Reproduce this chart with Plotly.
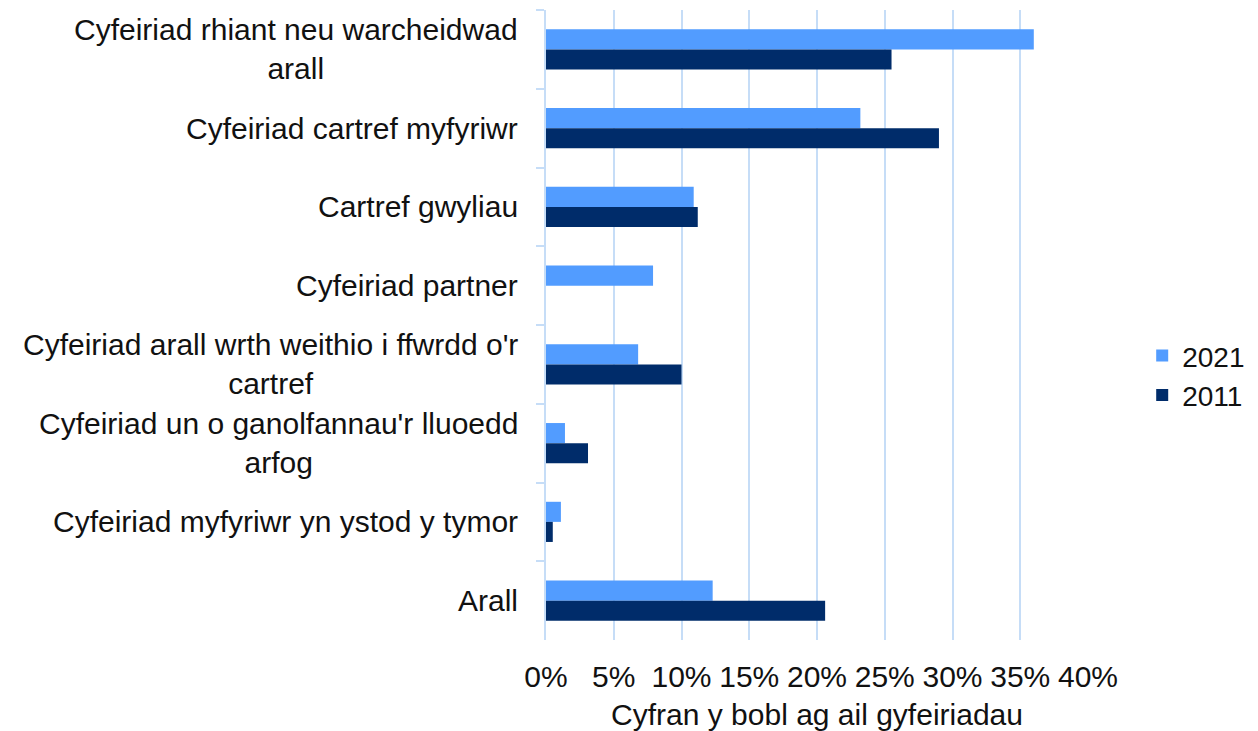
import plotly.graph_objects as go

categories = [
    "Cyfeiriad rhiant neu warcheidwad<br>arall",
    "Cyfeiriad cartref myfyriwr",
    "Cartref gwyliau",
    "Cyfeiriad partner",
    "Cyfeiriad arall wrth weithio i ffwrdd o'r<br>cartref",
    "Cyfeiriad un o ganolfannau'r lluoedd<br>arfog",
    "Cyfeiriad myfyriwr yn ystod y tymor",
    "Arall",
]
values_2021 = [0.360, 0.232, 0.109, 0.079, 0.068, 0.014, 0.011, 0.123]
values_2011 = [0.255, 0.290, 0.112, None, 0.100, 0.031, 0.005, 0.206]
x_tick_vals = [0, 0.05, 0.10, 0.15, 0.20, 0.25, 0.30, 0.35, 0.40]
x_title = "Cyfran y bobl ag ail gyfeiriadau"

FONT = "Liberation Sans, Arial, sans-serif"
GRID = "#c6ddf7"
TXT = "#111111"

fig = go.Figure()
fig.add_trace(go.Bar(y=categories, x=values_2021, name="2021", orientation="h",
                     marker=dict(color="#529cff", line=dict(width=0))))
fig.add_trace(go.Bar(y=categories, x=values_2011, name="2011", orientation="h",
                     marker=dict(color="#002c6a", line=dict(width=0))))

for c in categories:
    fig.add_annotation(x=-0.048, xref="paper", y=c, yref="y", text=c,
                       showarrow=False, xanchor="right", yanchor="middle",
                       align="center", font=dict(size=30, color=TXT, family=FONT))

fig.update_layout(
    width=1250, height=723,
    margin=dict(l=538, r=170, t=2, b=91, autoexpand=False),
    paper_bgcolor="white", plot_bgcolor="white",
    barmode="group", bargap=0.49, bargroupgap=0,
    font=dict(family=FONT, size=28, color=TXT),
    legend=dict(x=1.10, xanchor="left", y=0.42, yanchor="middle",
                font=dict(size=28), tracegroupgap=0, itemwidth=30),
    showlegend=True,
)
fig.update_xaxes(range=[0, 0.40], tickvals=x_tick_vals, tickformat=".0%",
                 showgrid=True, gridcolor=GRID, gridwidth=1.5, zeroline=False,
                 showline=False, ticks="", ticklen=0, ticklabelstandoff=16,
                 title=dict(text=x_title, standoff=12, font=dict(size=30)),
                 tickfont=dict(size=30))
fig.update_yaxes(autorange="reversed", showticklabels=False, showline=True,
                 linecolor=GRID, linewidth=1.5, ticks="outside", tickson="boundaries",
                 ticklen=8, tickcolor=GRID, tickwidth=1.5, showgrid=False)

fig.write_html("out.html")
